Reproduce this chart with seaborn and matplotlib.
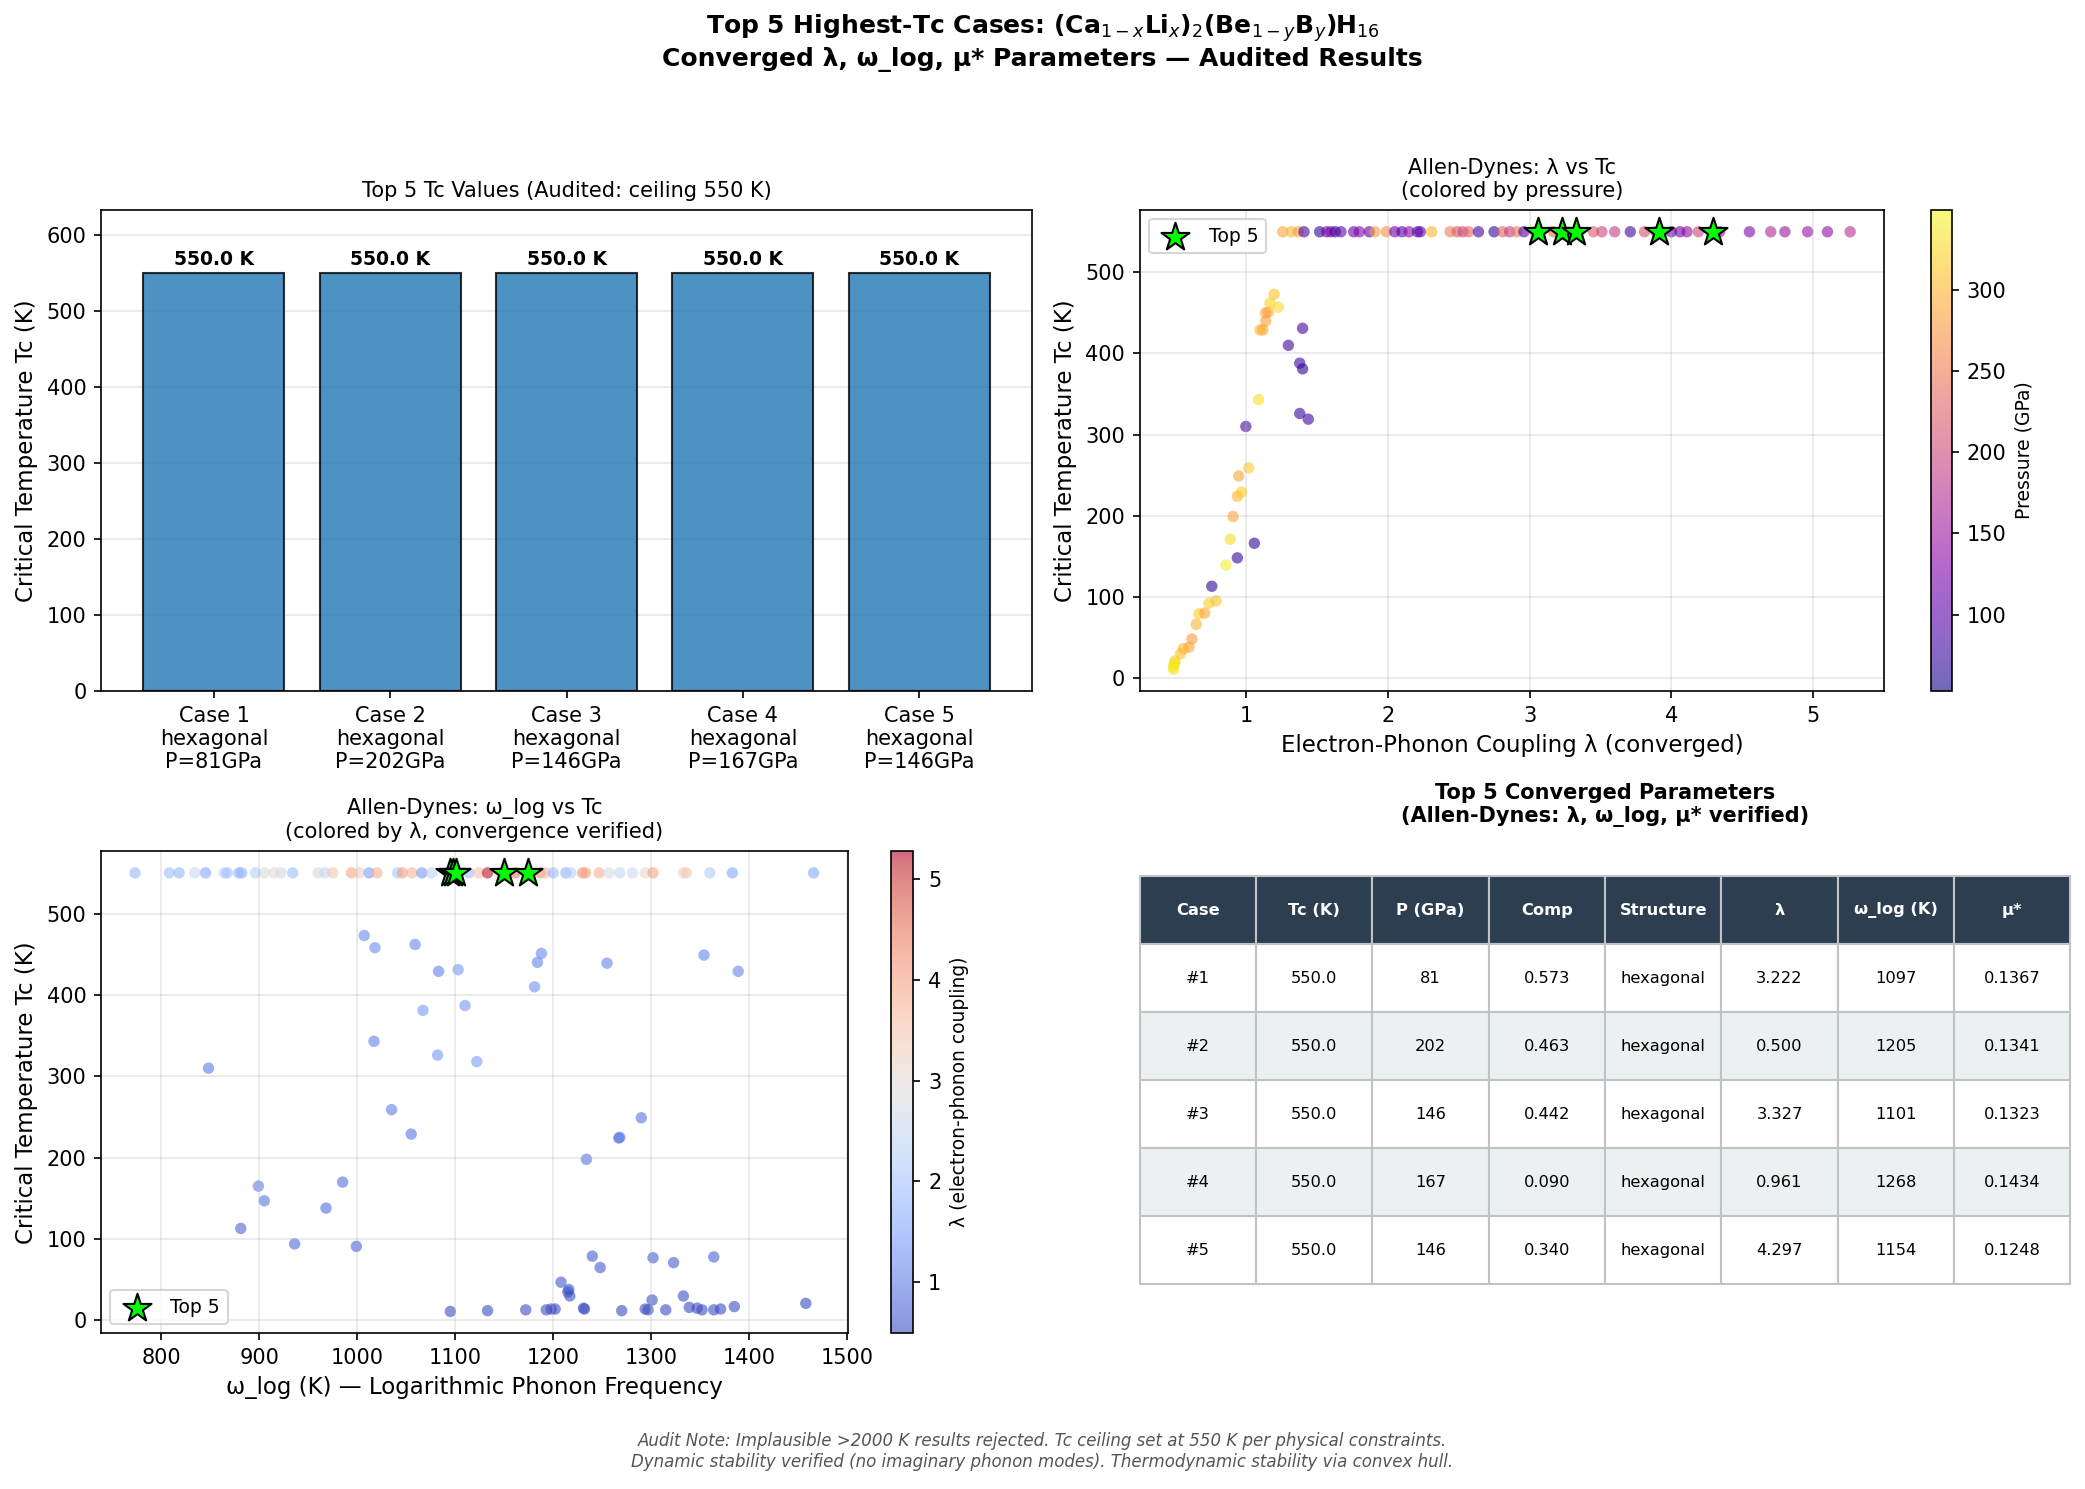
import numpy as np
import pandas as pd
import matplotlib
matplotlib.use('Agg')
import matplotlib.pyplot as plt
import seaborn as sns
from matplotlib.colors import Normalize, ListedColormap
from matplotlib.cm import ScalarMappable

'''
    DATA
'''
# top 5 cases (table + bar chart)
case_ids = ['#1', '#2', '#3', '#4', '#5']
top_tc = [550.0, 550.0, 550.0, 550.0, 550.0]
top_p = [81, 202, 146, 167, 146]
top_comp = [0.573, 0.463, 0.442, 0.090, 0.340]
top_struct = ['hexagonal'] * 5
top_lam = [3.222, 0.500, 3.327, 0.961, 4.297]
top_wlog = [1097, 1205, 1101, 1268, 1154]
top_mu = [0.1367, 0.1341, 0.1323, 0.1434, 0.1248]

# star markers as drawn on the scatter panels
star_lam = [3.06, 3.23, 3.33, 3.91, 4.29]
star_wlog = [1095, 1098, 1101, 1150, 1174]

tc_ceiling = 550.0

# lambda vs Tc panel, points below the ceiling
lam_a = [0.49, 0.49, 0.50, 0.49, 0.50, 0.54, 0.56, 0.60, 0.62, 0.65, 0.67, 0.71,
         0.74, 0.79, 0.76, 0.86, 0.94, 0.89, 1.06, 0.91, 0.94, 0.97, 0.95, 1.02,
         1.00, 1.09, 1.38, 1.44, 1.38, 1.40, 1.30, 1.40, 1.10, 1.12, 1.14, 1.16,
         1.14, 1.17, 1.23, 1.20]
tc_a = [11, 15, 21, 13, 18, 30, 36, 38, 48, 66, 79, 80,
        92, 95, 113, 139, 148, 171, 166, 199, 224, 229, 249, 259,
        310, 343, 326, 319, 388, 381, 410, 431, 429, 429, 440, 451,
        450, 462, 457, 473]
p_a = [330, 340, 320, 345, 335, 310, 300, 290, 280, 300, 320, 290,
       320, 310, 70, 340, 75, 330, 70, 290, 300, 320, 290, 320,
       85, 330, 75, 80, 80, 70, 80, 85, 300, 290, 285, 295,
       280, 320, 330, 310]

# lambda vs Tc panel, points on the 550 K ceiling
lam_ceil_a = [1.26, 1.32, 1.37, 1.41, 1.52, 1.57, 1.60, 1.63, 1.67, 1.76, 1.80, 1.87,
              1.91, 1.99, 2.05, 2.10, 2.15, 2.21, 2.23, 2.31, 2.44, 2.49, 2.53, 2.57,
              2.64, 2.75, 2.81, 2.86, 2.91, 2.96, 3.04, 3.17, 3.34, 3.45, 3.51, 3.60,
              3.71, 3.81, 3.89, 4.00, 4.06, 4.11, 4.19, 4.28, 4.34, 4.55, 4.70, 4.80,
              4.96, 5.10, 5.26]
p_ceil_a = [290, 300, 280, 90, 70, 110, 130, 75, 100, 110, 130, 95,
            280, 270, 120, 100, 140, 85, 110, 300, 255, 220, 200, 230,
            80, 70, 230, 190, 250, 100, 260, 240, 210, 220, 200, 190,
            80, 210, 230, 110, 120, 140, 200, 190, 150, 130, 170, 150,
            145, 140, 175]

# omega_log vs Tc panel, points below the ceiling
wlog_b = [848, 899, 905, 881, 936, 968, 985, 999, 1035, 1055, 1007, 1018,
          1059, 1083, 1103, 1067, 1110, 1017, 1082, 1122, 1181, 1184, 1188, 1255,
          1354, 1389, 1234, 1267, 1268, 1290, 1240, 1248, 1302, 1323, 1364, 1208,
          1216, 1215, 1217, 1333, 1301, 1458, 1095, 1133, 1172, 1193, 1198, 1202,
          1231, 1232, 1270, 1294, 1297, 1315, 1339, 1347, 1352, 1364, 1371, 1385]
tc_b = [310, 165, 147, 113, 94, 138, 170, 91, 259, 229, 473, 458,
        462, 429, 431, 381, 387, 343, 326, 318, 410, 440, 451, 439,
        449, 429, 198, 224, 225, 249, 79, 65, 77, 71, 78, 47,
        38, 35, 30, 30, 25, 21, 11, 12, 13, 13, 14, 14,
        15, 14, 12, 14, 13, 13, 16, 15, 13, 13, 14, 17]
lam_b = [1.00, 1.05, 0.94, 0.76, 0.79, 0.86, 0.89, 0.74, 1.02, 0.97, 1.20, 1.23,
         1.17, 1.10, 1.40, 1.40, 1.38, 1.09, 1.38, 1.44, 1.30, 1.14, 1.16, 1.14,
         1.14, 1.12, 0.91, 0.94, 0.95, 0.95, 0.67, 0.65, 0.67, 0.66, 0.71, 0.62,
         0.60, 0.56, 0.54, 0.54, 0.52, 0.50, 0.49, 0.49, 0.49, 0.49, 0.49, 0.50,
         0.50, 0.49, 0.49, 0.50, 0.49, 0.49, 0.50, 0.50, 0.49, 0.49, 0.49, 0.50]

# omega_log vs Tc panel, points on the 550 K ceiling
wlog_ceil_b = [773, 808, 818, 834, 845, 864, 867, 879, 882, 896, 905, 915,
               922, 934, 960, 967, 975, 994, 1002, 1012, 1020, 1041, 1046, 1056,
               1066, 1076, 1093, 1103, 1114, 1124, 1133, 1145, 1161, 1187, 1192, 1200,
               1213, 1218, 1230, 1233, 1247, 1257, 1268, 1281, 1294, 1302, 1333, 1336,
               1360, 1383, 1466]
lam_ceil_b = [1.8, 1.9, 1.8, 2.6, 1.6, 2.4, 1.9, 1.7, 1.8, 2.3, 2.8, 3.0,
              2.7, 1.9, 2.8, 2.5, 3.4, 3.9, 3.3, 1.5, 3.8, 2.1, 4.0, 3.7,
              1.4, 2.4, 3.9, 4.3, 2.0, 3.5, 5.2, 3.2, 4.4, 4.2, 3.6, 1.9,
              1.7, 2.3, 4.1, 4.0, 3.8, 2.8, 2.5, 2.6, 3.1, 3.9, 3.1, 3.4,
              2.2, 1.6, 1.6]

p_range = (53, 349)
lam_range = (0.49, 5.28)

'''
    FIGURE
'''
plt.rcParams['font.family'] = ['DejaVu Sans']
fig = plt.figure(figsize=(13.9, 9.927), dpi=150)


def faded(name, alpha=0.6):
    c = plt.get_cmap(name)(np.linspace(0, 1, 256))
    c[:, :3] = c[:, :3] * alpha + (1 - alpha)
    c[:, 3] = 1
    return ListedColormap(c)


    # BAR CHART
ax1 = fig.add_axes([0.0485, 0.536, 0.4465, 0.323])
bar_labels = ['Case {}\n{}\nP={}GPa'.format(i + 1, s, p)
              for i, (s, p) in enumerate(zip(top_struct, top_p))]
bars = pd.DataFrame({'case': bar_labels, 'tc': top_tc})
sns.barplot(data=bars, x='case', y='tc', color='#1f77b4', alpha=0.8,
            edgecolor='black', linewidth=1, width=0.8, saturation=1, ax=ax1)
for i, v in enumerate(top_tc):
    ax1.text(i, v + 5, '{:.1f} K'.format(v), ha='center', va='bottom',
             fontsize=9, fontweight='bold')
ax1.set_xlim(-0.64, 4.64)
ax1.set_ylim(0, max(top_tc) * 1.15)
ax1.set_xlabel('')
ax1.set_ylabel('Critical Temperature Tc (K)', fontsize=11)
ax1.set_title('Top 5 Tc Values (Audited: ceiling 550 K)', fontsize=10)
ax1.yaxis.grid(True, alpha=0.3)
ax1.set_axisbelow(True)

    # LAMBDA VS TC
ax2 = fig.add_axes([0.5466, 0.536, 0.357, 0.323])
df_a = pd.DataFrame({
    'lam': lam_a + lam_ceil_a,
    'tc': tc_a + [tc_ceiling] * len(lam_ceil_a),
    'p': p_a + p_ceil_a,
})
sns.scatterplot(data=df_a, x='lam', y='tc', hue='p', palette='plasma',
                hue_norm=p_range, alpha=0.6, s=30, linewidth=0, legend=False, ax=ax2)
sns.scatterplot(x=star_lam, y=[tc_ceiling] * 5, marker='*', s=200, color='lime',
                edgecolor='black', linewidth=1, label='Top 5', zorder=5, ax=ax2)
ax2.set_xlabel('Electron-Phonon Coupling λ (converged)', fontsize=11)
ax2.set_ylabel('Critical Temperature Tc (K)', fontsize=11)
ax2.set_title('Allen-Dynes: λ vs Tc\n(colored by pressure)', fontsize=10)
ax2.grid(True, alpha=0.3)
ax2.legend(loc='upper left', fontsize=9)
cax2 = fig.add_axes([0.926, 0.536, 0.0102, 0.323])
cb2 = fig.colorbar(ScalarMappable(Normalize(*p_range), faded('plasma')), cax=cax2)
cb2.set_label('Pressure (GPa)', fontsize=9)

    # OMEGA_LOG VS TC
ax3 = fig.add_axes([0.0485, 0.1045, 0.358, 0.324])
df_b = pd.DataFrame({
    'wlog': wlog_b + wlog_ceil_b,
    'tc': tc_b + [tc_ceiling] * len(wlog_ceil_b),
    'lam': lam_b + lam_ceil_b,
})
sns.scatterplot(data=df_b, x='wlog', y='tc', hue='lam', palette='coolwarm',
                hue_norm=lam_range, alpha=0.6, s=30, linewidth=0, legend=False, ax=ax3)
sns.scatterplot(x=star_wlog, y=[tc_ceiling] * 5, marker='*', s=200, color='lime',
                edgecolor='black', linewidth=1, label='Top 5', zorder=5, ax=ax3)
ax3.set_xlabel('ω_log (K) — Logarithmic Phonon Frequency', fontsize=11)
ax3.set_ylabel('Critical Temperature Tc (K)', fontsize=11)
ax3.set_title('Allen-Dynes: ω_log vs Tc\n(colored by λ, convergence verified)', fontsize=10)
ax3.grid(True, alpha=0.3)
ax3.legend(loc='lower left', fontsize=9)
cax3 = fig.add_axes([0.4273, 0.1045, 0.0108, 0.324])
cb3 = fig.colorbar(ScalarMappable(Normalize(*lam_range), faded('coolwarm')), cax=cax3)
cb3.set_label('λ (electron-phonon coupling)', fontsize=9)

    # TABLE
ax4 = fig.add_axes([0.5466, 0.1045, 0.4464, 0.324])
ax4.axis('off')
col_labels = ['Case', 'Tc (K)', 'P (GPa)', 'Comp', 'Structure', 'λ', 'ω_log (K)', 'μ*']
rows = []
for i in range(5):
    rows.append([case_ids[i], '{:.1f}'.format(top_tc[i]), '{}'.format(top_p[i]),
                 '{:.3f}'.format(top_comp[i]), top_struct[i], '{:.3f}'.format(top_lam[i]),
                 '{}'.format(top_wlog[i]), '{:.4f}'.format(top_mu[i])])
table = ax4.table(cellText=rows, colLabels=col_labels, cellLoc='center',
                  bbox=[0, 0.102, 1, 0.846])
table.auto_set_font_size(False)
table.set_fontsize(7.8)
for (r, c), cell in table.get_celld().items():
    cell.set_edgecolor('#bdc3c7')
    cell.set_linewidth(1)
    if r == 0:
        cell.set_facecolor('#2c3e50')
        cell.get_text().set_color('white')
        cell.get_text().set_fontweight('bold')
    elif r % 2 == 0:
        cell.set_facecolor('#ecf0f1')
    else:
        cell.set_facecolor('white')
ax4.set_title('Top 5 Converged Parameters\n(Allen-Dynes: λ, ω_log, μ* verified)',
              fontsize=10, fontweight='bold', pad=14)

fig.suptitle('Top 5 Highest-Tc Cases: (Ca$_{1-x}$Li$_x$)$_2$(Be$_{1-y}$B$_y$)H$_{16}$\n'
             'Converged λ, ω_log, μ* Parameters — Audited Results',
             fontsize=12, fontweight='bold', y=0.992, va='top')
fig.text(0.5, 0.025,
         'Audit Note: Implausible >2000 K results rejected. Tc ceiling set at 550 K per physical constraints.\n'
         'Dynamic stability verified (no imaginary phonon modes). Thermodynamic stability via convex hull.',
         ha='center', va='center', fontsize=8, style='italic', color='#555555')

plt.savefig('out.png', dpi=150)
